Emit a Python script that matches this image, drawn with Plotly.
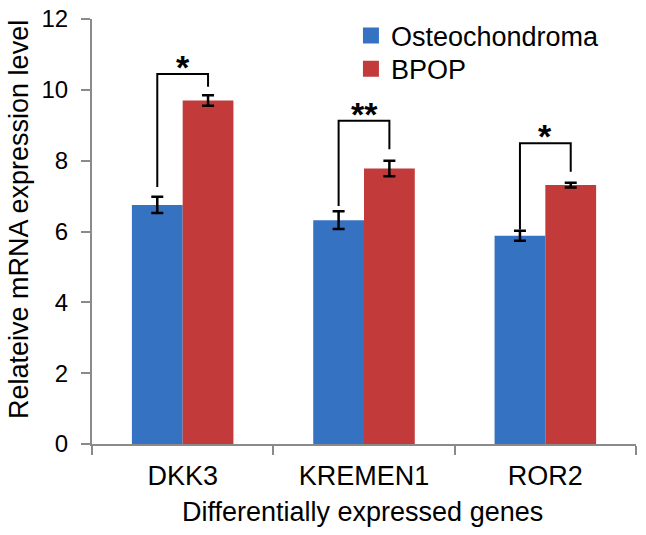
import plotly.graph_objects as go

genes = ["DKK3", "KREMEN1", "ROR2"]
osteo_vals = [6.75, 6.32, 5.88]
osteo_err = [0.23, 0.25, 0.14]
bpop_vals = [9.70, 7.78, 7.31]
bpop_err = [0.15, 0.22, 0.07]
sig_labels = ["*", "**", "*"]
bracket_top = [10.45, 9.13, 8.49]
bracket_left_bottom = [7.26, 6.72, 6.06]
bracket_right_bottom = [10.09, 8.32, 7.69]
y_ticks = [0, 2, 4, 6, 8, 10, 12]

FONT = "Liberation Sans, Arial, sans-serif"
AXIS_GRAY = "#8a8a8a"
BLUE = "#3672c2"
RED = "#c23b3a"

fig = go.Figure()
fig.add_trace(go.Bar(
    x=genes, y=osteo_vals, name="Osteochondroma", showlegend=False,
    marker=dict(color=BLUE, line=dict(width=0)),
    error_y=dict(type="data", array=osteo_err, color="black", thickness=2.5, width=6),
))
fig.add_trace(go.Bar(
    x=genes, y=bpop_vals, name="BPOP", showlegend=False,
    marker=dict(color=RED, line=dict(width=0)),
    error_y=dict(type="data", array=bpop_err, color="black", thickness=2.5, width=6),
))
# legend entries (square swatches), one legend each for exact row placement
for name, col, lg in [("Osteochondroma", BLUE, "legend"), ("BPOP", RED, "legend2")]:
    fig.add_trace(go.Scatter(x=[None], y=[None], mode="markers", name=name, legend=lg,
                             marker=dict(symbol="square", size=16, color=col)))

bargap = 0.44
half = (1 - bargap) / 4  # center offset of each bar within group
for i, lab in enumerate(sig_labels):
    xl = i - half
    xr = i + half
    fig.add_shape(type="path",
                  path=f"M {xl} {bracket_left_bottom[i]} L {xl} {bracket_top[i]} L {xr} {bracket_top[i]} L {xr} {bracket_right_bottom[i]}",
                  xref="x", yref="y", line=dict(color="black", width=2))
    fig.add_annotation(x=i, y=bracket_top[i], text=f"<b>{lab}</b>", showarrow=False,
                       xref="x", yref="y", yanchor="bottom", yshift=-14,
                       font=dict(size=34, color="black", family=FONT))

fig.add_annotation(text="Differentially expressed genes", xref="paper", yref="paper",
                   x=0.498, y=-0.16, xanchor="center", yanchor="middle", showarrow=False,
                   font=dict(size=27, family=FONT, color="black"))
fig.add_annotation(text="Relateive mRNA expression level", xref="paper", yref="paper",
                   x=(19 - 92) / 544, y=0.527, xanchor="center", yanchor="middle", showarrow=False,
                   textangle=-90, borderpad=0, font=dict(size=27, family=FONT, color="black"))

legend_style = dict(xanchor="left", yanchor="middle", font=dict(size=27, family=FONT),
                    bgcolor="rgba(0,0,0,0)")
fig.update_layout(
    width=646, height=535,
    margin=dict(l=92, r=10, t=19, b=91),
    paper_bgcolor="white", plot_bgcolor="white",
    barmode="group", bargap=bargap, bargroupgap=0,
    font=dict(family=FONT, color="black"),
    legend=dict(x=0.476, y=0.960, **legend_style),
    legend2=dict(x=0.476, y=0.882, **legend_style),
    showlegend=True,
)
fig.update_xaxes(
    automargin=False,
    showline=True, linecolor=AXIS_GRAY, linewidth=2,
    ticks="outside", tickson="boundaries", ticklen=9, tickcolor=AXIS_GRAY, tickwidth=2,
    tickfont=dict(size=27, family=FONT, color="black"),
    ticklabelstandoff=7,
    showgrid=False, zeroline=False,
)
fig.update_yaxes(
    automargin=False,
    range=[0, 12], tickvals=y_ticks,
    showline=True, linecolor=AXIS_GRAY, linewidth=2,
    ticks="outside", ticklen=9, tickcolor=AXIS_GRAY, tickwidth=2,
    tickfont=dict(size=24, family=FONT, color="black"),
    ticklabelstandoff=8,
    showgrid=False, zeroline=False,
)

fig.write_html("out.html", config={"displayModeBar": False},
               post_script="document.body.style.margin='0';")
